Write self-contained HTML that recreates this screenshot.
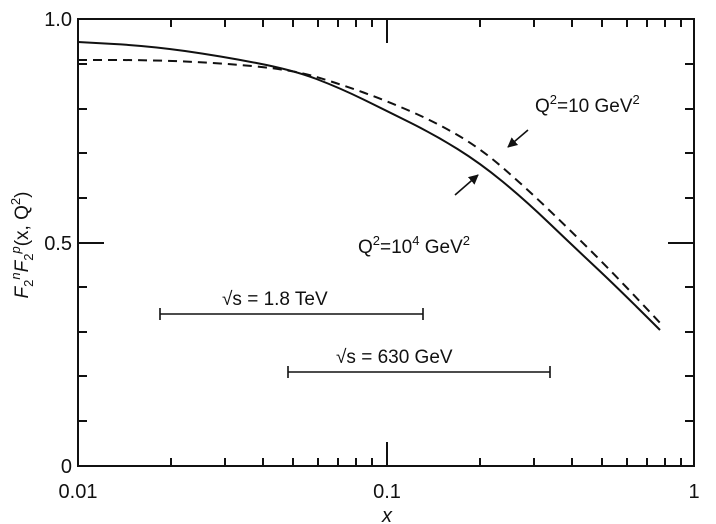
<!DOCTYPE html>
<html><head><meta charset="utf-8"><style>
html,body{margin:0;padding:0;background:#fff;}
svg{display:block;font-family:"Liberation Sans",sans-serif;}
</style></head><body>
<svg width="716" height="524" viewBox="0 0 716 524">
<defs><marker id="ah" markerWidth="10" markerHeight="10" refX="9" refY="5" orient="auto" markerUnits="userSpaceOnUse"><path d="M0,0 L10,5 L0,10 z" fill="#111"/></marker></defs>
<g stroke="#111" stroke-width="2" fill="none">
<rect x="78" y="19" width="616" height="447"/>
<path d="M171,466v-8M225,466v-8M263,466v-8M293,466v-8M318,466v-8M338,466v-8M356,466v-8M372,466v-8M387,466v-24M480,466v-8M534,466v-8M572,466v-8M602,466v-8M627,466v-8M647,466v-8M665,466v-8M681,466v-8
M171,19v8M225,19v8M263,19v8M293,19v8M318,19v8M338,19v8M356,19v8M372,19v8M387,19v24M480,19v8M534,19v8M572,19v8M602,19v8M627,19v8M647,19v8M665,19v8M681,19v8"/>
<path d="M78,421h9M78,376h9M78,332h9M78,287h9M78,243h26M78,198h9M78,153h9M78,109h9M78,64h9
M694,421h-9M694,376h-9M694,332h-9M694,287h-9M694,243h-26M694,198h-9M694,153h-9M694,109h-9M694,64h-9"/>
<path d="M78,42 L114,44 Q150,46 185,51 Q220,56 256.5,63 Q293,70 316.5,79 Q340,88 363.5,99.5 Q387,111 411,123 Q435,135 457.5,149 Q480,163 502.5,181.5 Q525,200 548.5,222.5 Q572,245 596,267.5 Q620,290 660,330"/>
<path stroke-dasharray="9,6" d="M78,60 L114,60 Q150,60 185,61.5 Q220,63 256.5,66.5 Q293,70 316.5,77 Q340,84 363.5,92.5 Q387,101 411,111.5 Q435,122 457.5,135 Q480,148 502.5,167.5 Q525,187 548.5,209.5 Q572,232 596,256 Q620,280 662,325"/>
<path stroke-width="1.6" d="M160,314H423M160,308v12M423,308v12M288,372H550M288,366v12M550,366v12"/>
<path stroke-width="1.6" marker-end="url(#ah)" d="M528,130L508,147"/>
<path stroke-width="1.6" marker-end="url(#ah)" d="M455,195L478,175"/>
</g>
<g fill="#111" font-size="20">
<text x="72" y="26" text-anchor="end">1.0</text>
<text x="72" y="250" text-anchor="end">0.5</text>
<text x="72" y="473" text-anchor="end">0</text>
<text x="78" y="498" text-anchor="middle">0.01</text>
<text x="387" y="498" text-anchor="middle">0.1</text>
<text x="694" y="498" text-anchor="middle">1</text>
<text x="387" y="522" text-anchor="middle" font-style="italic">x</text>
<text x="535" y="112" font-size="19">Q<tspan font-size="13" dy="-8">2</tspan><tspan dy="8">=10 GeV</tspan><tspan font-size="13" dy="-8">2</tspan></text>
<text x="358" y="253" font-size="19">Q<tspan font-size="13" dy="-8">2</tspan><tspan dy="8">=10</tspan><tspan font-size="13" dy="-8">4</tspan><tspan dy="8"> GeV</tspan><tspan font-size="13" dy="-8">2</tspan></text>
<text x="222" y="305" font-size="19">√s = 1.8 TeV</text>
<text x="336" y="363" font-size="19">√s = 630 GeV</text>
<text transform="translate(28,245) rotate(-90)" text-anchor="middle" font-size="19"><tspan font-style="italic">F</tspan><tspan font-size="13" dy="5">2</tspan><tspan font-size="13" dy="-13" font-style="italic">n</tspan><tspan dy="8" font-style="italic">F</tspan><tspan font-size="13" dy="5">2</tspan><tspan font-size="13" dy="-13" font-style="italic">p</tspan><tspan dy="8">(x, Q</tspan><tspan font-size="13" dy="-8">2</tspan><tspan dy="8">)</tspan></text>
</g>
</svg>
</body></html>
